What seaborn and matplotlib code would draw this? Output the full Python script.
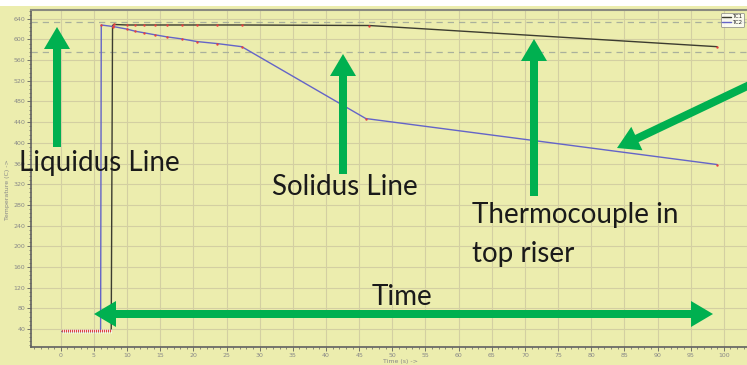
import matplotlib
matplotlib.use("Agg")
import matplotlib.pyplot as plt
import seaborn as sns
import pandas as pd
from matplotlib.patches import FancyArrowPatch, ArrowStyle, Rectangle
from matplotlib.ticker import MultipleLocator

# thermocouple readings (time in s, temperature in C)
tc1_time = [0.2, 1.0, 2.0, 3.0, 4.0, 5.0, 6.0, 7.0, 7.6, 7.8, 8.0, 10.0, 11.2, 12.5,
            14.2, 16.0, 18.3, 20.5, 23.6, 27.3, 46.5, 99.0]
tc1_temp = [35, 35, 35, 35, 35, 35, 35, 35, 35, 627, 629, 628, 628, 628,
            628, 628, 628, 628, 628, 628, 627, 586]
tc2_time = [0.2, 1.0, 2.0, 3.0, 4.0, 5.0, 6.0, 6.1, 7.9, 10.0, 11.2, 12.5,
            14.2, 16.0, 18.3, 20.5, 23.6, 27.3, 46.0, 99.0]
tc2_temp = [35, 35, 35, 35, 35, 35, 35, 628, 625, 620, 616, 613,
            609, 605, 601, 596, 592, 586, 447, 358]
# dense samples on the initial flat part
flat_time = [0.3, 0.6, 0.9, 1.2, 1.5, 1.8, 2.1, 2.4, 2.7, 3.0, 3.3, 3.6, 3.9,
             4.2, 4.5, 4.8, 5.1, 5.4, 5.7, 6.0, 6.3, 6.6, 6.9, 7.2, 7.5]
flat_temp = [35] * len(flat_time)

liquidus = 633
solidus = 576

tc1 = pd.DataFrame({"time": tc1_time, "temp": tc1_temp})
tc2 = pd.DataFrame({"time": tc2_time, "temp": tc2_temp})

bg = "#ecedae"
sns.set_style("whitegrid", {"axes.facecolor": bg, "grid.color": "#d3cfa2"})

W, H = 747, 365
fig = plt.figure(figsize=(W / 100, H / 100), dpi=100, facecolor=bg)
ax = fig.add_axes([31 / W, 18 / H, (W - 31) / W, (H - 18 - 10) / H])
fig.add_artist(Rectangle((0, 1 - 6 / H), 1, 6 / H, transform=fig.transFigure,
                         color="white", lw=0, zorder=0))

sns.lineplot(data=tc1, x="time", y="temp", ax=ax, color="#3c3c30", lw=1.0,
             sort=False, estimator=None, label="TC1")
sns.lineplot(data=tc2, x="time", y="temp", ax=ax, color="#6464c8", lw=1.0,
             sort=False, estimator=None, label="TC2")
sns.scatterplot(x=tc1_time[9:], y=tc1_temp[9:], ax=ax, color="#e84040", s=3,
                marker="o", linewidth=0, legend=False, zorder=4)
sns.scatterplot(x=tc2_time[7:], y=tc2_temp[7:], ax=ax, color="#e84040", s=3,
                marker="o", linewidth=0, legend=False, zorder=4)
sns.lineplot(x=flat_time, y=flat_temp, ax=ax, color="#e04040", lw=1.6,
             marker="|", markersize=3, markeredgewidth=0.6, legend=False, zorder=4)

for lvl in (liquidus, solidus):
    ax.axhline(lvl, color="#a9b09c", lw=0.9, dashes=(5, 4), zorder=1)

ax.set_xlim(-4.5, 103.5)
ax.set_ylim(5, 657)
ax.xaxis.set_minor_locator(MultipleLocator(1))
ax.yaxis.set_minor_locator(MultipleLocator(8))
ax.set_yticks(range(40, 641, 40))
ax.set_xticks(range(0, 101, 5))
ax.grid(True, which="major", lw=0.8)
ax.tick_params(which="both", direction="out", colors="#606060", labelcolor="#888888",
               labelsize=4.5, bottom=True, left=True, pad=1)
ax.tick_params(which="major", length=3, width=0.6)
ax.tick_params(which="minor", length=1.5, width=0.5)
for side in ("left", "bottom"):
    ax.spines[side].set_color("#606060")
    ax.spines[side].set_linewidth(1.2)
ax.spines["top"].set_color("#8a8a80")
ax.spines["top"].set_linewidth(1.5)
ax.spines["right"].set_visible(False)
ax.set_xlabel("")
ax.set_ylabel("")
fig.text(8 / W, 1 - 190 / H, "Temperature (C) ->", rotation=90, fontsize=4.5,
         color="#888888", ha="center", va="center")
fig.text(400 / W, 1 - 361 / H, "Time (s) ->", fontsize=4.5, color="#888888",
         ha="center", va="center")

leg = ax.legend(loc="upper right", fontsize=4, handlelength=1.5, frameon=True,
                borderpad=0.3, labelspacing=0.1, handletextpad=0.3,
                facecolor="white", edgecolor="#808080")
leg.get_frame().set_linewidth(0.6)


def px(x, y):
    return (x / W, 1 - y / H)


green = "#00b050"
style = ArrowStyle.Simple(head_length=22, head_width=26, tail_width=8)


def arrow(x0, y0, x1, y1):
    a = FancyArrowPatch(px(x0, y0), px(x1, y1), transform=fig.transFigure,
                        arrowstyle=style, mutation_scale=0.72, color=green,
                        lw=0, shrinkA=0, shrinkB=0, zorder=5)
    fig.add_artist(a)


arrow(57, 147, 57, 27)
arrow(343, 174, 343, 54)
arrow(534, 196, 534, 39)
arrow(760, 80, 617, 148)
arrow(400, 314, 94, 314)
arrow(400, 314, 713, 314)

txt = dict(fontsize=20, family="Lato", color="#1a1a1a", va="baseline", ha="left")
fig.text(*px(19, 171), "Liquidus Line", **txt)
fig.text(*px(272, 195), "Solidus Line", **txt)
fig.text(*px(472, 223), "Thermocouple in", **txt)
fig.text(*px(472, 262), "top riser", **txt)
fig.text(*px(372, 305), "Time", **txt)

fig.savefig("out.png", dpi=100, facecolor=bg)
